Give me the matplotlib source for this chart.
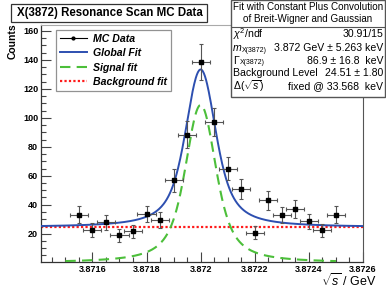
import numpy as np
import matplotlib
matplotlib.use("Agg")
import matplotlib.pyplot as plt
from matplotlib.lines import Line2D
from matplotlib.patches import Rectangle
from matplotlib.ticker import MultipleLocator, FixedLocator, FixedFormatter

plt.rcParams['font.family'] = ['Liberation Sans', 'DejaVu Sans']
plt.rcParams['mathtext.fontset'] = 'custom'
plt.rcParams['mathtext.rm'] = 'Liberation Sans'
plt.rcParams['mathtext.it'] = 'Liberation Sans:italic'

# ---------------- data ----------------
sqrt_s = [3.87155, 3.87160, 3.87165, 3.87170, 3.87175, 3.87180, 3.87185,
          3.87190, 3.87195, 3.87200, 3.87205, 3.87210, 3.87215, 3.87220,
          3.87225, 3.87230, 3.87235, 3.87240, 3.87245, 3.87250]
counts = [33.1, 22.8, 27.8, 18.8, 21.6, 33.6, 29.7, 56.8, 88.3, 138.4,
          97.2, 64.8, 50.8, 20.7, 43.0, 32.9, 37.0, 28.5, 22.3, 33.1]
count_err = [6.0, 4.8, 5.3, 4.3, 4.6, 5.8, 5.4, 7.8, 9.2, 12.5,
             9.8, 8.0, 7.1, 4.5, 6.5, 5.7, 6.1, 5.3, 4.7, 5.8]
energy_spread = 33.568e-6   # GeV, x error / Gaussian sigma

# fit parameters
fit_mass = 3.872
fit_width = 86.9e-6
fit_bkg = 24.51
signal_peak = 108.8

x_ticks = [3.8716, 3.8718, 3.8720, 3.8722, 3.8724, 3.8726]
x_tick_labels = ["3.8716", "3.8718", "3.872", "3.8722", "3.8724", "3.8726"]
y_ticks = [20, 40, 60, 80, 100, 120, 140, 160]

# ---------------- fit curves (BW (x) Gauss) ----------------
def voigt(x, m, gamma, sigma):
    t = np.linspace(-12 * sigma, 12 * sigma, 801)
    g = np.exp(-0.5 * (t / sigma) ** 2)
    g /= g.sum()
    bw = (gamma / 2) ** 2 / ((x[:, None] - t[None, :] - m) ** 2 + (gamma / 2) ** 2)
    return (bw * g[None, :]).sum(axis=1)

W, H = 386, 290
fig = plt.figure(figsize=(W / 100, H / 100), dpi=100)
ax = fig.add_axes([41 / W, 1 - 262 / H, (363 - 41) / W, (262 - 25) / H])

xlo, xhi = 3.87141, 3.8726
xg = np.linspace(xlo, xhi, 600)
v = voigt(xg, fit_mass, fit_width, energy_spread)
v0 = voigt(np.array([fit_mass]), fit_mass, fit_width, energy_spread)[0]
sig = signal_peak * v / v0

xs = np.linspace(3.8715, 3.8725, 500)
vs = voigt(xs, fit_mass, fit_width, energy_spread)
sig_s = signal_peak * vs / v0

blue = '#2d4fb0'
green = '#4cbf3a'
red = '#ff1a1a'

ax.plot(xg, np.full_like(xg, fit_bkg), color=red, lw=1.6, ls=(0, (1, 1)), zorder=2)
ax.plot(xs, sig_s, color=green, lw=1.5, ls=(0, (5, 3)), zorder=3)
ax.plot(xg, sig + fit_bkg, color=blue, lw=1.4, zorder=4)
ax.errorbar(sqrt_s, counts, yerr=count_err, xerr=energy_spread, fmt='s',
            color='black', ms=3.5, ecolor='#555555', elinewidth=0.8,
            capsize=1.5, capthick=0.8, zorder=5)

ax.set_xlim(xlo, xhi)
ax.set_ylim(0.5, 164)
ax.xaxis.set_major_locator(FixedLocator(x_ticks))
ax.xaxis.set_major_formatter(FixedFormatter(x_tick_labels))
ax.xaxis.set_minor_locator(MultipleLocator(0.00005))
ax.yaxis.set_major_locator(FixedLocator(y_ticks))
ax.yaxis.set_minor_locator(MultipleLocator(5))
ax.tick_params(which='both', direction='in', top=False, right=False,
               labelsize=6.5, pad=2, width=0.8, color='#444444')
ax.tick_params(which='major', length=7)
ax.tick_params(which='minor', length=3.5)
for lab in ax.get_xticklabels() + ax.get_yticklabels():
    lab.set_fontweight('bold')
for s in ['left', 'bottom']:
    ax.spines[s].set_color('#333333')
    ax.spines[s].set_linewidth(0.9)
ax.spines['top'].set_color('#aaaaaa')
ax.spines['right'].set_color('#555555')

fig.text(13 / W, 1 - 23 / H, 'Counts', rotation=90, ha='center', va='top',
         fontsize=7.5, fontweight='bold')
fig.text(377 / W, 1 - 281 / H, r'$\sqrt{s}$ / GeV', ha='right', va='center',
         fontsize=9)

# legend
handles = [
    Line2D([], [], color='black', marker='o', ms=2, lw=0.8),
    Line2D([], [], color=blue, lw=1.4),
    Line2D([], [], color=green, lw=1.5, ls=(0, (5, 3))),
    Line2D([], [], color=red, lw=1.6, ls=(0, (1, 1))),
]
labels = ['MC Data', 'Global Fit', 'Signal fit', 'Background fit']
leg = fig.legend(handles, labels, loc='upper left',
                 bbox_to_anchor=(56 / W, 1 - 30 / H),
                 prop={'weight': 'bold', 'style': 'italic', 'size': 7.6},
                 frameon=True, fancybox=False, borderpad=0.35,
                 handlelength=2.6, handletextpad=0.6, labelspacing=0.42,
                 borderaxespad=0)
leg.get_frame().set_edgecolor('#777777')
leg.get_frame().set_linewidth(0.9)

# title box
fig.patches.append(Rectangle((11 / W, 1 - 22 / H), (207 - 11) / W, 18 / H,
                             transform=fig.transFigure, facecolor='white',
                             edgecolor='#333333', lw=0.9, zorder=10))
fig.text(110 / W, 1 - 13 / H, 'X(3872) Resonance Scan MC Data', ha='center',
         va='center', fontsize=8.3, fontweight='bold', zorder=11)

# stats box
bx0, by0, bx1, by1 = 231, 0, 385, 97
fig.patches.append(Rectangle((bx0 / W, 1 - by1 / H), (bx1 - bx0) / W, (by1 - by0) / H,
                             transform=fig.transFigure, facecolor='white',
                             edgecolor='#555555', lw=1.0, zorder=11))
fig.add_artist(Line2D([bx0 / W, bx1 / W], [1 - 27 / H, 1 - 27 / H],
                      transform=fig.transFigure, color='#555555', lw=0.8, zorder=12))
fig.text((bx0 + bx1) / 2 / W, 1 - 7 / H, 'Fit with Constant Plus Convolution',
         ha='center', va='center', fontsize=7.1, zorder=12)
fig.text((bx0 + bx1) / 2 / W, 1 - 19.5 / H, 'of Breit-Wigner and Gaussian',
         ha='center', va='center', fontsize=7.1, zorder=12)

fs = 7.6
# row labels (main symbol + small subscript as separate text)
fig.text(233 / W, 1 - 34 / H, r'$\chi^2$/ndf', ha='left', va='center', fontsize=fs, zorder=12)
fig.text(233 / W, 1 - 48 / H, 'm', ha='left', va='center', fontsize=fs,
         style='italic', zorder=12)
fig.text(242 / W, 1 - 50.5 / H, 'X(3872)', ha='left', va='center', fontsize=5, zorder=12)
fig.text(233 / W, 1 - 60.5 / H, 'Γ', ha='left', va='center', fontsize=fs, zorder=12)
fig.text(240 / W, 1 - 63 / H, 'X(3872)', ha='left', va='center', fontsize=5, zorder=12)
fig.text(233 / W, 1 - 73.5 / H, 'Background Level', ha='left', va='center', fontsize=fs, zorder=12)
fig.text(233 / W, 1 - 86 / H, r'$\Delta(\sqrt{s})$', ha='left', va='center', fontsize=fs, zorder=12)

values = ['30.91/15', '3.872 GeV ± 5.263 keV', '86.9 ± 16.8  keV',
          '24.51 ± 1.80', 'fixed @ 33.568  keV']
row_y = [34, 48, 61, 73.5, 86]
for val, yy in zip(values, row_y):
    fig.text(383.5 / W, 1 - yy / H, val, ha='right', va='center', fontsize=fs, zorder=12)

fig.savefig('out.png', dpi=100)
